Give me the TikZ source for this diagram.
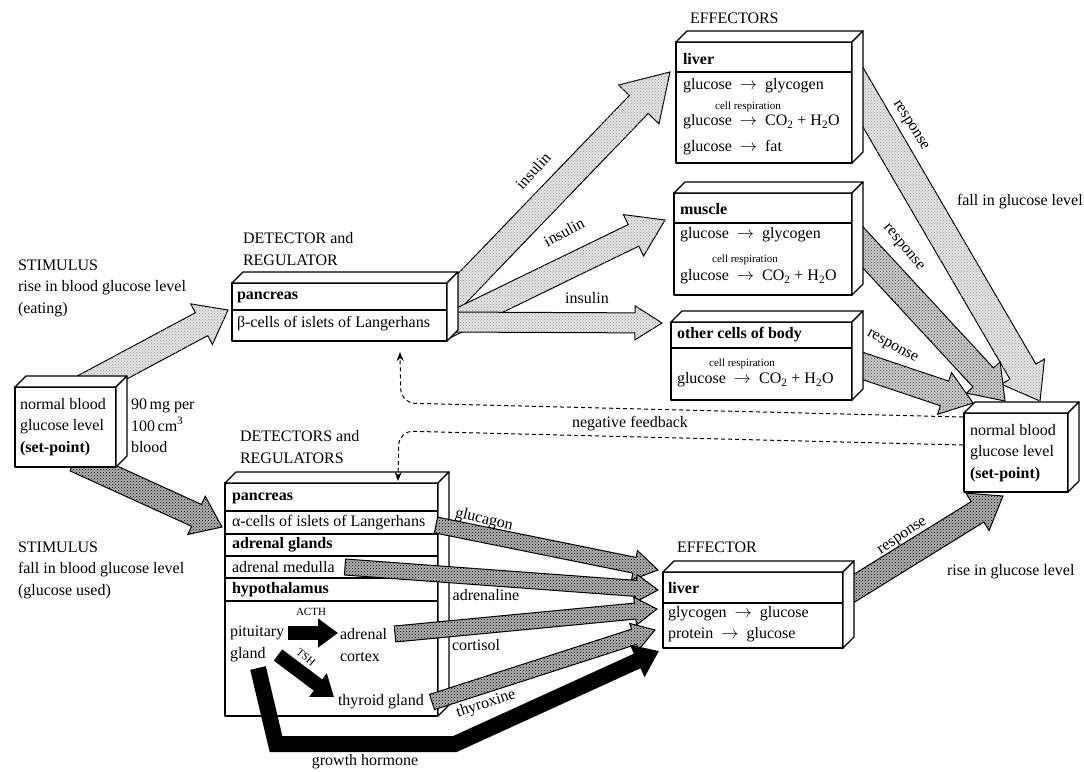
\documentclass[tikz,border=0pt]{standalone}
\usepackage{fontspec}
\setmainfont{Liberation Serif}
\usetikzlibrary{calc,patterns,arrows.meta}

\newcommand\fatarrow[6][]{%
  \coordinate (fahb) at ($(#3)!#6!(#2)$);
  \path[#1] ($(#2)!#4!90:(#3)$) -- ($(fahb)!#4!-90:(#2)$) -- ($(fahb)!#5!-90:(#2)$) -- (#3)
     -- ($(fahb)!#5!90:(#2)$) -- ($(fahb)!#4!90:(#2)$) -- ($(#2)!#4!-90:(#3)$) -- cycle;}

\newcommand\cuboid[5]{%
  \node[boxface, anchor=north west, minimum width=#4pt, minimum height=#5pt] (#1) at (#2,-#3) {};
  \draw[boxface] (#1.north west) -- ++(11,11) -- ($(#1.north east)+(11,11)$) -- (#1.north east) -- cycle;
  \draw[boxface] (#1.north east) -- ++(11,11) -- ($(#1.south east)+(11,11)$) -- (#1.south east) -- cycle;}

\tikzset{
  every node/.style={inner sep=0pt, outer sep=0pt},
  txt/.style={font=\fontsize{16}{21.5}\selectfont, anchor=west, align=left},
  lbl/.style={font=\fontsize{16}{21.5}\selectfont},
  tinytxt/.style={font=\fontsize{11}{13}\selectfont},
  boxface/.style={draw, fill=white, line width=1.3pt, line join=round},
  rowline/.style={line width=1.3pt},
  light/.style={draw, line width=1pt, line join=miter, fill=gray!22, postaction={pattern=crosshatch dots, pattern color=gray!80}},
  medium/.style={draw, line width=1pt, line join=miter, fill=gray!40, postaction={pattern=crosshatch dots, pattern color=black!75}},
  dark/.style={draw, line width=1pt, line join=miter, fill=gray!62, postaction={pattern=crosshatch dots, pattern color=black}},
  solidarr/.style={draw=black, line width=14pt, line join=miter, -{Triangle[length=20pt,width=28pt]}},
  fb/.style={dash pattern=on 4pt off 3pt, line width=1pt, rounded corners=14pt, -{Stealth[length=9pt,width=7pt]}},
}

\begin{document}
\begin{tikzpicture}[x=1pt,y=1pt]
\useasboundingbox (0,0) rectangle (1084,-771);

% ---------- arrow end points ----------
\coordinate (riseT) at (75,-392);  \coordinate (riseH) at (228,-310);
\coordinate (fallT) at (75,-460);  \coordinate (fallH) at (222,-527);
\coordinate (insLT) at (445,-306); \coordinate (insLH) at (670,-72);
\coordinate (insMT) at (445,-327); \coordinate (insMH) at (665,-220);
\coordinate (insOT) at (445,-322); \coordinate (insOH) at (662,-323);
\coordinate (resLT) at (850,-75);  \coordinate (resLH) at (1040,-401);
\coordinate (resMT) at (845,-228); \coordinate (resMH) at (1005,-401);
\coordinate (resOT) at (845,-360); \coordinate (resOH) at (973,-403);
\coordinate (resFT) at (840,-597); \coordinate (resFH) at (1003,-496);

% ---------- arrows behind boxes ----------
\fatarrow[light]{riseT}{riseH}{13pt}{23pt}{30pt}
\fatarrow[dark]{fallT}{fallH}{12pt}{21pt}{28pt}
\fatarrow[light]{insLT}{insLH}{13pt}{28pt}{45pt}
\fatarrow[light]{insMT}{insMH}{12pt}{23pt}{35pt}
\fatarrow[light]{insOT}{insOH}{10pt}{17pt}{27pt}
\fatarrow[light]{resLT}{resLH}{15pt}{25pt}{34pt}
\fatarrow[medium]{resMT}{resMH}{14pt}{23pt}{32pt}
\fatarrow[medium]{resOT}{resOH}{13pt}{22pt}{30pt}
\fatarrow[dark]{resFT}{resFH}{12pt}{22pt}{30pt}

% ---------- boxes ----------
\cuboid{L}{15}{387}{101}{80}
\cuboid{P}{232}{283}{215}{58}
\cuboid{D}{225}{483}{213}{233}
\cuboid{EL}{676}{42}{176}{121}
\cuboid{M}{674}{193}{178}{102}
\cuboid{O}{671}{322}{181}{78}
\cuboid{FL}{663}{572}{180}{76}
\cuboid{R}{964}{413}{104}{79}

% row lines
\draw[rowline] (232,-310) -- (447,-310);
\foreach \yy in {511,534,556,578,601} \draw[rowline] (225,-\yy) -- (438,-\yy);
\draw[rowline] (676,-72) -- (852,-72);
\draw[rowline] (674,-223) -- (852,-223);
\draw[rowline] (671,-348) -- (852,-348);
\draw[rowline] (663,-603) -- (843,-603);

% ---------- texts in boxes ----------
\node[txt] (Ltxt) at (20,-427) {normal blood\\glucose level\\\textbf{(set-point)}};
\node[txt] (Lval) at (131,-426) {90\,mg per\\100\,cm\textsuperscript{3}\\blood};

\node[txt] (Pt1) at (237,-297) {\textbf{pancreas}};
\node[txt] (Pt2) at (237,-324) {β-cells of islets of Langerhans};

\node[txt] (Dt1) at (232,-498) {\textbf{pancreas}};
\node[txt] (Dt2) at (232,-523) {α-cells of islets of Langerhans};
\node[txt] (Dt3) at (232,-545) {\textbf{adrenal glands}};
\node[txt] (Dt4) at (232,-567) {adrenal medulla};
\node[txt] (Dt5) at (232,-590) {\textbf{hypothalamus}};
\node[txt] (pit) at (230,-644) {pituitary\\gland};
\node[txt] (adc) at (340,-645) {adrenal\\cortex};
\node[txt] (thy) at (338,-702) {thyroid gland};
\node[tinytxt] (acth) at (311,-612) {ACTH};
\node[tinytxt, rotate=-40] (tsh) at (306,-657) {TSH};

\node[txt] (ELt1) at (683,-59) {\textbf{liver}};
\node[txt] (ELt2) at (683,-86) {glucose\enspace$\rightarrow$\enspace glycogen};
\node[tinytxt] (ELcr) at (748,-107) {cell respiration};
\node[txt] (ELt3) at (683,-122) {glucose\enspace$\rightarrow$\enspace CO\textsubscript{2} + H\textsubscript{2}O};
\node[txt] (ELt4) at (683,-148) {glucose\enspace$\rightarrow$\enspace fat};

\node[txt] (Mt1) at (680,-209) {\textbf{muscle}};
\node[txt] (Mt2) at (680,-235) {glucose\enspace$\rightarrow$\enspace glycogen};
\node[tinytxt] (Mcr) at (745,-260) {cell respiration};
\node[txt] (Mt3) at (680,-277) {glucose\enspace$\rightarrow$\enspace CO\textsubscript{2} + H\textsubscript{2}O};

\node[txt] (Ot1) at (677,-335) {\textbf{other cells of body}};
\node[tinytxt] (Ocr) at (742,-364) {cell respiration};
\node[txt] (Ot2) at (677,-380) {glucose\enspace$\rightarrow$\enspace CO\textsubscript{2} + H\textsubscript{2}O};

\node[txt] (FLt1) at (668,-588) {\textbf{liver}};
\node[txt] (FLt2) at (668,-614) {glycogen\enspace$\rightarrow$\enspace glucose};
\node[txt] (FLt3) at (668,-635) {protein\enspace$\rightarrow$\enspace glucose};

\node[txt] (Rtxt) at (970,-453) {normal blood\\glucose level\\\textbf{(set-point)}};

% ---------- arrows on top of the lower detector box ----------
\coordinate (glcT) at (436,-525); \coordinate (glcH) at (658,-570);
\coordinate (adrT) at (345,-567); \coordinate (adrH) at (658,-590);
\coordinate (corT) at (395,-634); \coordinate (corH) at (657,-609);
\coordinate (thxT) at (432,-702); \coordinate (thxH) at (655,-630);
\fatarrow[dark]{glcT}{glcH}{8pt}{15pt}{24pt}
\fatarrow[dark]{adrT}{adrH}{8pt}{14pt}{22pt}
\fatarrow[dark]{corT}{corH}{8pt}{14pt}{22pt}
\fatarrow[dark]{thxT}{thxH}{8pt}{14pt}{22pt}

\coordinate (acthT) at (288,-633); \coordinate (acthH) at (338,-633);
\coordinate (tshT) at (278,-655);  \coordinate (tshH) at (334,-697);
\draw[solidarr] (acthT) -- (acthH);
\draw[solidarr] (tshT) -- (tshH);
\coordinate (gh0) at (258,-668); \coordinate (gh1) at (276,-744);
\coordinate (gh2) at (455,-744); \coordinate (ghH) at (659,-651);
\draw[draw=black, line width=16pt, line join=miter, -{Triangle[length=24pt,width=34pt]}]
  (gh0) -- (gh1) -- (gh2) -- (ghH);

% ---------- negative feedback ----------
\coordinate (fb1) at (963,-417); \coordinate (fb1c) at (401,-403); \coordinate (fb1H) at (400,-352);
\coordinate (fb2) at (963,-445); \coordinate (fb2c) at (399,-431); \coordinate (fb2H) at (398,-481);
\draw[fb] (fb1) -- (fb1c) -- (fb1H);
\draw[fb] (fb2) -- (fb2c) -- (fb2H);
\node[lbl] (nf) at (630,-424) {negative feedback};

% ---------- labels ----------
\node[txt] (stim1) at (18,-288) {STIMULUS\\rise in blood glucose level\\(eating)};
\node[txt] (stim2) at (18,-570) {STIMULUS\\fall in blood glucose level\\(glucose used)};
\node[txt] (detP) at (243,-249) {DETECTOR and\\REGULATOR};
\node[txt] (detD) at (240,-447) {DETECTORS and\\REGULATORS};
\node[txt] (effs) at (690,-18) {EFFECTORS};
\node[txt] (eff) at (677,-547) {EFFECTOR};
\node[txt] (fallg) at (957,-202) {fall in glucose level};
\node[txt] (riseg) at (947,-572) {rise in glucose level};

\node[lbl, rotate=48] (ins1) at (533,-171) {insulin};
\node[lbl, rotate=28] (ins2) at (564,-232) {insulin};
\node[lbl] (ins3) at (587,-298) {insulin};
\node[lbl, rotate=-58] (rs1) at (910,-126) {response};
\node[lbl, rotate=-50] (rs2) at (903,-248) {response};
\node[lbl, rotate=-29] (rs3) at (892,-347) {response};
\node[lbl, rotate=34] (rs4) at (903,-537) {response};
\node[lbl, rotate=-13] (glc) at (484,-520) {glucagon};
\node[lbl] (adr) at (486,-595) {adrenaline};
\node[lbl] (cor) at (476,-645) {cortisol};
\node[lbl, rotate=18] (thx) at (486,-704) {thyroxine};
\node[lbl] (gh) at (365,-762) {growth hormone};
\end{tikzpicture}
\end{document}
